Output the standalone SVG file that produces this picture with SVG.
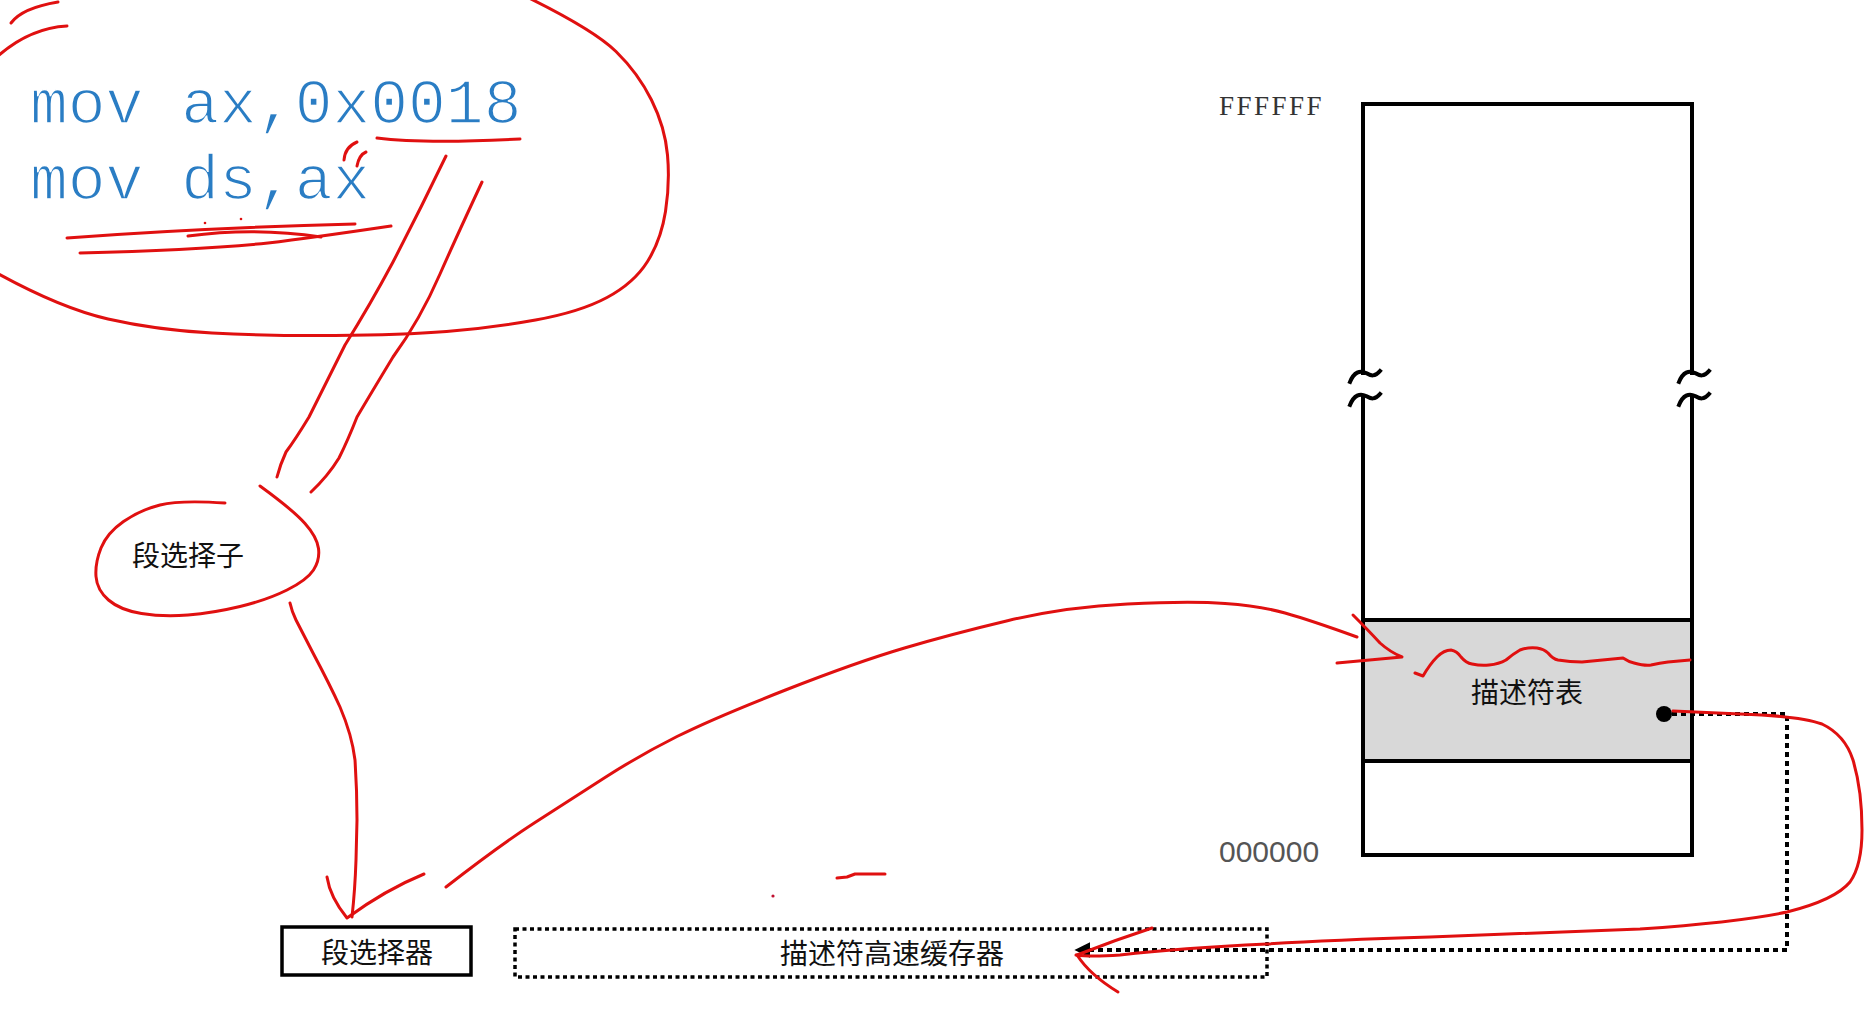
<svg xmlns="http://www.w3.org/2000/svg" width="1866" height="1019" viewBox="0 0 1866 1019">
<style>
.red{fill:none;stroke:#e01010;stroke-width:3;stroke-linecap:round;stroke-linejoin:round}
.blk{fill:none;stroke:#000;stroke-width:4;stroke-linecap:square}
.dash{fill:none;stroke:#000;stroke-width:4;stroke-dasharray:5 4}
.code{font-family:"Liberation Mono",monospace;font-size:63px;fill:#2a7dc4;stroke:#fff;stroke-width:1.6}
.cjk{font-family:"Noto Sans CJK SC","Noto Sans",sans-serif;font-size:28px;fill:#111;text-anchor:middle}
</style>
<defs>
<marker id="arrowL" viewBox="0 0 10 10" refX="9" refY="5" markerWidth="4" markerHeight="4" orient="auto">
<path d="M0,0 L10,5 L0,10 Z" fill="#000"/>
</marker>
</defs>
<rect width="1866" height="1019" fill="#fff"/>

<g id="code">
<text class="code" x="30" y="123">mov ax,0x0018</text>
<text class="code" x="30" y="199">mov ds,ax</text>
</g>

<g id="memory">
<path class="blk" d="M1363,104 L1692,104"/>
<path class="blk" d="M1363,104 L1363,373 M1363,398 L1363,855 L1692,855 L1692,398 M1692,373 L1692,104"/>
<path class="blk" d="M1350,382 C1354,372 1360,370 1366,373 C1371,376 1375,377 1380,371"/>
<path class="blk" d="M1350,405 C1354,395 1360,393 1366,396 C1371,399 1375,400 1380,394"/>
<path class="blk" d="M1679,382 C1683,372 1689,370 1695,373 C1700,376 1704,377 1709,371"/>
<path class="blk" d="M1679,405 C1683,395 1689,393 1695,396 C1700,399 1704,400 1709,394"/>
<text x="1219" y="115" font-family="Liberation Serif, serif" font-size="27" letter-spacing="2.5" fill="#333">FFFFFF</text>
<text x="1219" y="862" font-family="Liberation Sans, sans-serif" font-size="30" fill="#555">000000</text>
</g>

<g id="descriptor-table">
<rect x="1363" y="620" width="329" height="141" fill="#d8d8d8" stroke="#000" stroke-width="4"/>
<text class="cjk" x="1527" y="703" font-size="29">描述符表</text>
<circle cx="1664" cy="714" r="8" fill="#000"/>
</g>

<g id="selector-sub">
<text class="cjk" x="188" y="566">段选择子</text>
</g>

<g id="selector-reg">
<rect x="282" y="927" width="189" height="48" fill="#fff" stroke="#000" stroke-width="3.5"/>
<text class="cjk" x="377" y="963">段选择器</text>
</g>

<g id="descriptor-cache">
<rect x="515" y="929" width="752" height="48" fill="none" stroke="#000" stroke-width="3.5" stroke-dasharray="4 3.5"/>
<text class="cjk" x="892" y="964">描述符高速缓存器</text>
</g>

<g id="connectors">
<path class="dash" d="M1672,714 L1787,714 L1787,950 L1076,950" marker-end="url(#arrowL)"/>
</g>

<g id="annotations">
<path class="red" d="M-5,272 Q60,308 108,319 Q156,330 212,333 Q268,336 335,335.5 Q402,335 446.5,331.5 Q491,328 535.5,320 Q580,312 607,297.5 Q634,283 647.5,261.5 Q661,240 665.5,211.5 Q670,183 667.5,155 Q665,127 651.5,100 Q638,73 616,51.5 Q594,30 527,-3"/>
<path class="red" d="M11,23 Q22,8 58,2"/>
<path class="red" d="M67,26 Q30,28 -2,56"/>
<path class="red" d="M377,138 Q424,144 520,139"/>
<path class="red" d="M344,160 Q345,147 357,142 M357,166 Q359,155 366,152"/>
<path class="red" d="M67,238 Q201,228 355,224"/>
<path class="red" d="M80,253 Q200,250 268,243 Q310,238 391,226"/>
<path class="red" d="M188,236 Q255,227 321,237"/>
<circle cx="205" cy="223" r="1.3" fill="#e01010"/>
<circle cx="241" cy="219" r="1.3" fill="#e01010"/>
<path class="red" d="M446,156 Q420,210 393,262 Q370,305 345,345 Q325,385 309,417 Q295,440 286,452 Q280,465 277,477"/>
<path class="red" d="M482,182 Q455,240 440,274 Q420,320 393,357 Q370,395 357,417 Q348,440 339,458 Q328,476 311,492"/>
<path class="red" d="M225,503 Q180,500 160,505 Q140,510 123.5,521.5 Q107,533 101,548 Q95,563 96,576.5 Q97,590 108.5,600 Q120,610 141.5,613.5 Q163,617 188,615 Q213,613 240,606.5 Q267,600 287,590 Q307,580 313.5,570 Q320,560 318.5,548.5 Q317,537 305,523.5 Q293,510 260,486"/>
<path class="red" d="M290,603 Q292,612 296,620 L313,653 Q330,685 340,707 Q352,735 355,760 Q357,790 357,820 L356,860 Q355,890 352,917"/>
<path class="red" d="M327,877 Q330,897 347,918 Q385,890 424,874"/>
<path class="red" d="M446,887 Q500,845 535,822.5 Q570,800 605,777.5 Q640,755 677,736.5 Q714,718 785.5,690 Q857,662 904.5,648 Q952,634 1008.5,620.5 Q1065,607 1127.5,604 Q1190,601 1225,603.5 Q1260,606 1285,613 Q1310,620 1357,637"/>
<path class="red" d="M1353,615 Q1368,630 1380,643 Q1390,652 1402,657 Q1370,660 1337,663"/>
<path class="red" d="M1415,673 L1423,676 Q1430,664 1437,657 Q1444,650 1451,650 Q1457,651 1461,657 Q1466,663 1472,664 Q1481,666 1489,665 Q1499,664 1506,660 Q1513,654 1520,650 Q1528,647 1537,648 Q1544,649 1548,653 Q1553,659 1558,660 Q1570,662 1582,662 L1623,658 Q1629,662 1634,663 Q1645,666 1651,665 Q1660,663 1668,662 L1690,660"/>
<path class="red" d="M1673,711 L1740,714 Q1800,716 1822,724 Q1845,735 1853,760 Q1862,790 1862,830 Q1862,865 1850,882 Q1835,900 1787,912 Q1740,922 1640,929 L1430,937 Q1330,940 1267,944 Q1180,948 1120,955 Q1090,957 1076,955"/>
<path class="red" d="M1152,928 Q1115,940 1077,955 Q1090,975 1118,992"/>
<circle cx="773" cy="896" r="1.6" fill="#c01030"/>
<path class="red" d="M837,878 L847,877 L855,874 L885,874"/>
</g>
</svg>
